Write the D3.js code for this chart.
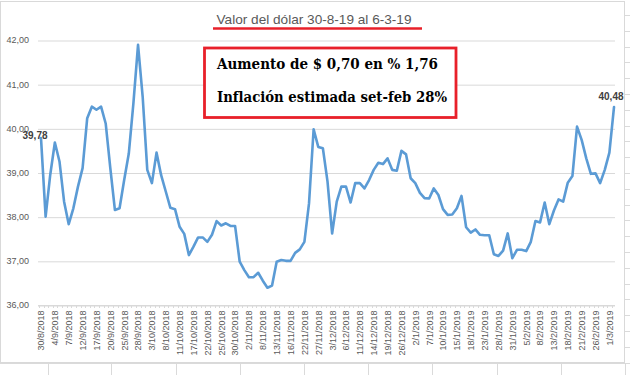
<!DOCTYPE html>
<html lang="es">
<head>
<meta charset="UTF-8">
<title>Valor del dólar</title>
<script src="https://d3js.org/d3.v7.min.js"></script>
<style>
  body { margin: 0; background: #fff; }
  #chart { width: 630px; height: 375px; }
  text { font-family: "Liberation Sans", Arial, sans-serif; }
</style>
</head>
<body>
<div id="chart"></div>
<script>

// one tick label every 3 business days
var tickLabels = ["30/8/2018","4/9/2018","7/9/2018","12/9/2018","17/9/2018","20/9/2018","25/9/2018",
  "28/9/2018","3/10/2018","8/10/2018","11/10/2018","17/10/2018","22/10/2018","25/10/2018",
  "30/10/2018","2/11/2018","8/11/2018","13/11/2018","16/11/2018","22/11/2018","27/11/2018",
  "3/12/2018","6/12/2018","11/12/2018","14/12/2018","19/12/2018","26/12/2018","2/1/2019",
  "7/1/2019","10/1/2019","15/1/2019","18/1/2019","23/1/2019","28/1/2019","31/1/2019",
  "5/2/2019","8/2/2019","13/2/2019","18/2/2019","21/2/2019","26/2/2019","1/3/2019"];
var labelStep = 3;

// dollar price, one value per business day (30/8/2018 .. 6/3/2019)
var prices = [39.78,38.00,38.95,39.68,39.25,38.34,37.83,38.19,38.68,39.10,
  40.23,40.49,40.42,40.49,40.11,39.10,38.15,38.19,38.83,39.43,
  40.57,41.89,40.72,39.06,38.76,39.45,38.94,38.57,38.20,38.17,
  37.77,37.61,37.13,37.32,37.53,37.53,37.43,37.59,37.90,37.80,
  37.85,37.79,37.79,36.98,36.79,36.63,36.63,36.73,36.55,36.39,
  36.44,36.98,37.02,37.00,37.00,37.18,37.26,37.43,38.30,39.98,
  39.58,39.55,38.80,37.62,38.34,38.68,38.68,38.32,38.76,38.76,
  38.64,38.83,39.06,39.22,39.19,39.32,39.06,39.04,39.49,39.41,
  38.87,38.76,38.54,38.42,38.41,38.64,38.49,38.17,38.04,38.05,
  38.19,38.47,37.76,37.64,37.71,37.59,37.58,37.58,37.15,37.11,
  37.23,37.62,37.06,37.25,37.25,37.22,37.43,37.90,37.87,38.32,
  37.83,38.14,38.39,38.34,38.77,38.92,40.04,39.74,39.32,38.97,
  38.98,38.76,39.06,39.45,40.48];

var yTicks = [36, 37, 38, 39, 40, 41, 42];

var title = "Valor del dólar 30-8-19 al 6-3-19";
var boxLines = ["Aumento de $ 0,70 en % 1,76", "Inflación estimada set-feb 28%"];

var W = 630, H = 375;
var sheetCols = [48, 111, 176, 240, 304, 368, 432, 497, 561, 625];

var svg = d3.select("#chart").append("svg")
    .attr("width", W)
    .attr("height", H);

// spreadsheet cells peeking out below / right of the chart
svg.append("line").attr("x1", 0).attr("x2", W).attr("y1", 363.5).attr("y2", 363.5)
    .style("stroke", "#dadada");
svg.selectAll(".col").data(sheetCols).enter().append("line")
    .attr("x1", function(d) { return d + 0.5; }).attr("x2", function(d) { return d + 0.5; })
    .attr("y1", 363).attr("y2", H)
    .style("stroke", "#dadada");
svg.selectAll(".row").data(d3.range(15, 375, 15.8)).enter().append("line")
    .attr("x1", 625).attr("x2", W)
    .attr("y1", function(d) { return Math.round(d) + 0.5; })
    .attr("y2", function(d) { return Math.round(d) + 0.5; })
    .style("stroke", "#dadada");

// chart area
svg.append("rect")
    .attr("x", 0.5).attr("y", 1.5)
    .attr("width", 624).attr("height", 361)
    .style("fill", "#fff")
    .style("stroke", "#d9d9d9");

// scales
var x = d3.scalePoint()
    .domain(d3.range(prices.length))
    .range([41, 614]);
var y = d3.scaleLinear()
    .domain([36, 42])
    .range([305, 40]);

// gridlines + y labels
var yAxis = svg.append("g")
    .attr("transform", "translate(38,0)")
    .call(d3.axisLeft(y).tickValues(yTicks).tickSize(-577).tickPadding(9)
      .tickFormat(function(d) { return d3.format(".2f")(d).replace(".", ","); }));
yAxis.select(".domain").remove();
yAxis.selectAll("line").style("stroke", "#d9d9d9").attr("transform", "translate(0,0.5)");
yAxis.selectAll("text").style("fill", "#595959").style("font-size", "9px")
    .attr("font-family", "Liberation Sans, Arial, sans-serif");

// x axis
var xTickIdx = d3.range(0, prices.length, labelStep);
var xAxis = svg.append("g")
    .attr("transform", "translate(0,305.5)")
    .call(d3.axisBottom(x).tickValues(xTickIdx).tickSize(0).tickPadding(5)
      .tickFormat(function(d) { return tickLabels[d / labelStep]; }));
xAxis.select(".domain").attr("d", "M38,0H615").style("stroke", "#d9d9d9");
xAxis.selectAll("text")
    .style("fill", "#595959").style("font-size", "9px")
    .attr("text-anchor", "end")
    .attr("transform", "rotate(-90)")
    .attr("x", -5).attr("y", 0).attr("dy", "0.32em");

// minor ticks, one per day
svg.append("g").selectAll("line").data(d3.range(prices.length)).enter().append("line")
    .attr("x1", function(d) { return Math.round(x(d)) - 1.5; })
    .attr("x2", function(d) { return Math.round(x(d)) - 1.5; })
    .attr("y1", 305).attr("y2", 308)
    .style("stroke", "#d9d9d9");

// the price line
var line = d3.line()
    .x(function(d, i) { return x(i); })
    .y(function(d) { return y(d); });
svg.append("path")
    .datum(prices)
    .attr("d", line)
    .style("fill", "none")
    .style("stroke", "#5b9bd5")
    .style("stroke-width", 2.6)
    .style("stroke-linejoin", "round")
    .style("stroke-linecap", "round");

// data labels for first and last values
var fmt = function(v) { return d3.format(".2f")(v).replace(".", ","); };
var last = prices.length - 1;
svg.append("text")
    .attr("x", x(0) - 6).attr("y", y(prices[0]) + 0.5)
    .attr("text-anchor", "middle")
    .style("font-size", "10px").style("font-weight", "bold").style("fill", "#404040")
    .text(fmt(prices[0]));
svg.append("text")
    .attr("x", x(last) - 3).attr("y", y(prices[last]) - 7)
    .attr("text-anchor", "middle")
    .style("font-size", "10px").style("font-weight", "bold").style("fill", "#404040")
    .text(fmt(prices[last]));

// title with red underline
svg.append("text")
    .attr("x", 314).attr("y", 23.5)
    .attr("text-anchor", "middle")
    .attr("textLength", 195).attr("lengthAdjust", "spacingAndGlyphs")
    .style("font-size", "13px").style("fill", "#595959")
    .text(title);
svg.append("line")
    .attr("x1", 213).attr("x2", 422).attr("y1", 28.5).attr("y2", 28.5)
    .style("stroke", "#e8202a").style("stroke-width", 2.5);

// annotation box
svg.append("rect")
    .attr("x", 204.5).attr("y", 48)
    .attr("width", 251.5).attr("height", 69.5)
    .style("fill", "#fff")
    .style("stroke", "#e8202a").style("stroke-width", 2.8);
svg.selectAll(".boxtxt").data(boxLines).enter().append("text")
    .attr("x", 217)
    .attr("y", function(d, i) { return 68.5 + i * 33.5; })
    .attr("textLength", function(d, i) { return i == 0 ? 221 : 230; })
    .attr("lengthAdjust", "spacingAndGlyphs")
    .attr("font-family", "DejaVu Serif, serif")
    .style("font-family", "DejaVu Serif, serif")
    .style("font-size", "14px").style("font-weight", "bold").style("fill", "#000")
    .text(function(d) { return d; });

</script>
</body>
</html>
